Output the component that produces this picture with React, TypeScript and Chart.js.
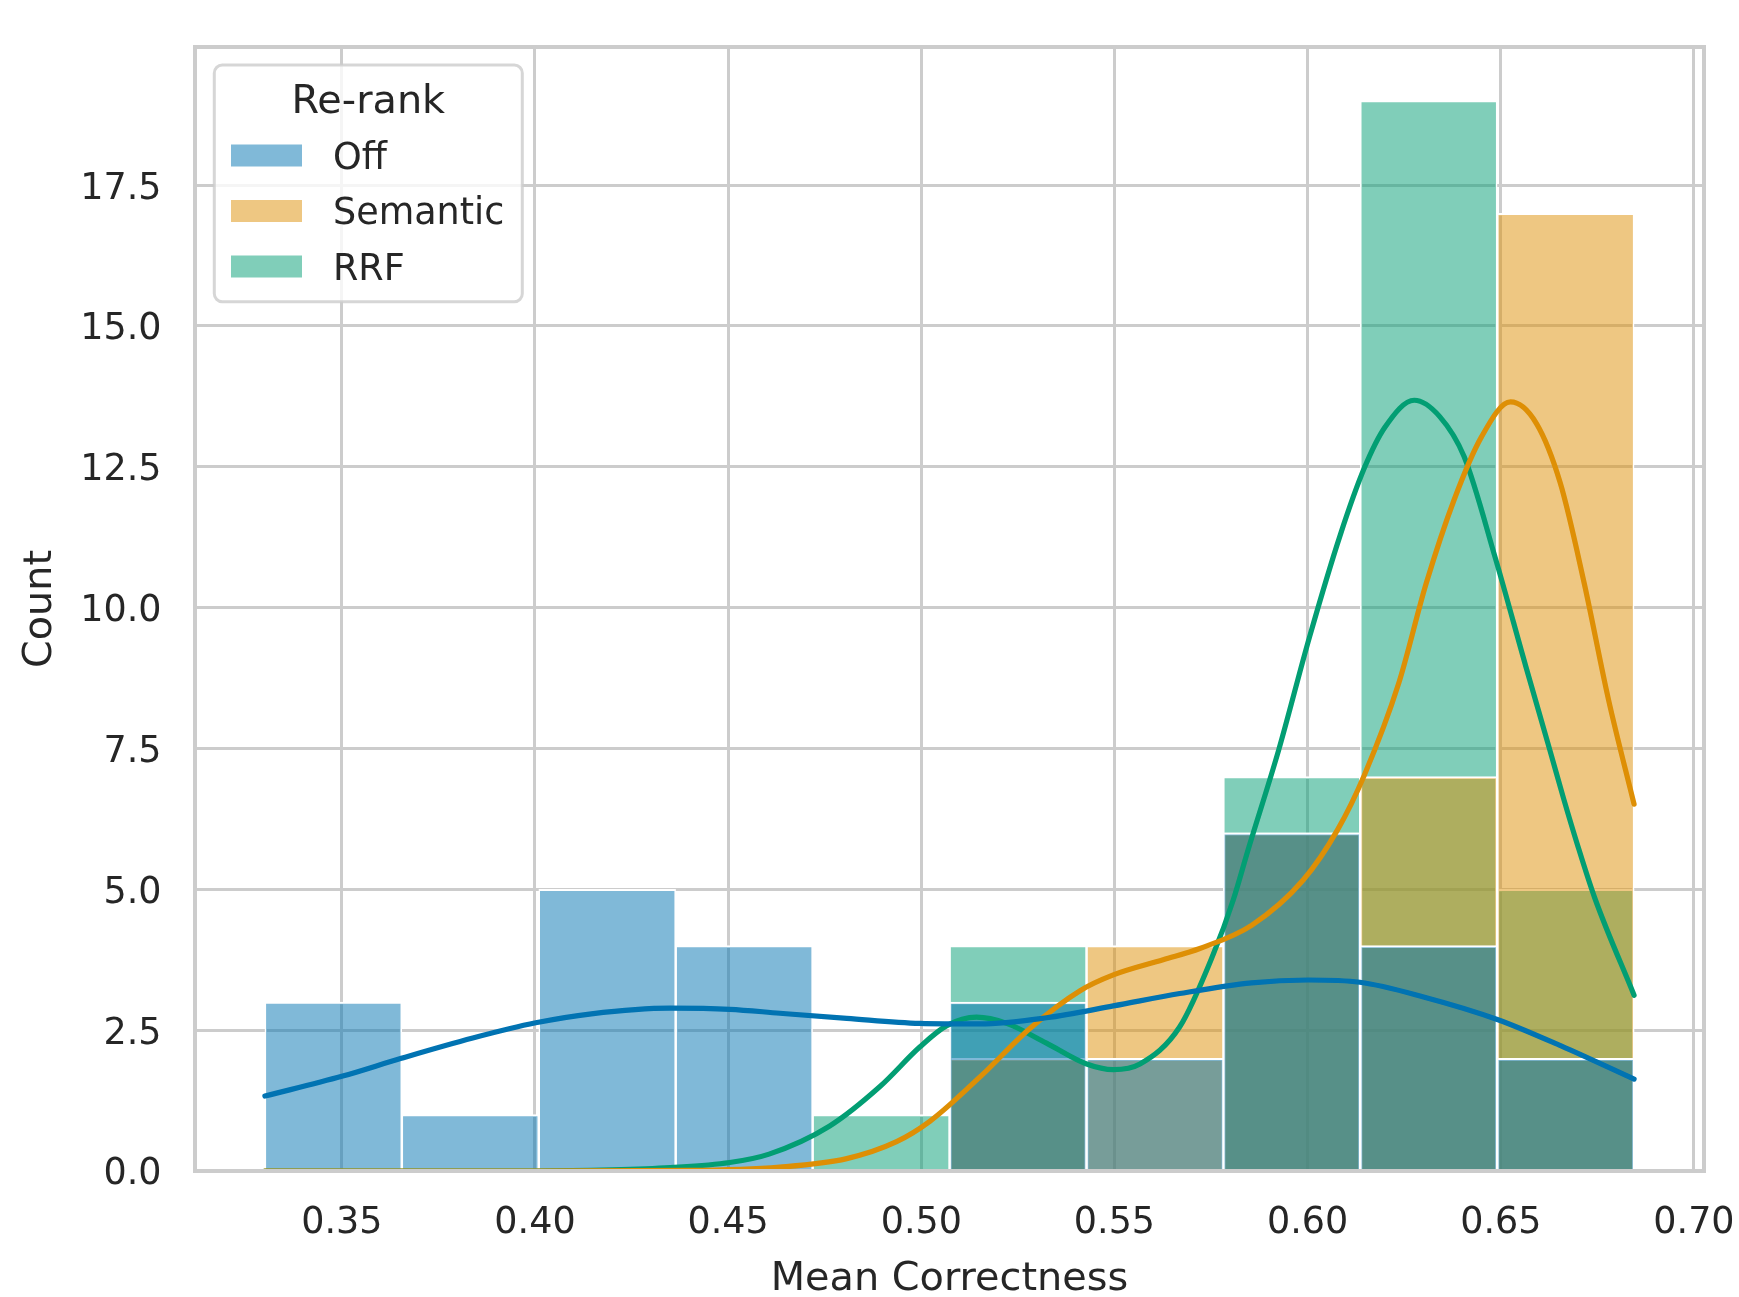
import React, { useEffect, useRef } from 'react';
import { Chart, registerables } from 'chart.js';

Chart.register(...registerables);

// ---------------- data ----------------
const seriesNames = ['Off', 'Semantic', 'RRF'];
const seriesColors = ['#0173b2', '#de8f05', '#029e73'];
const legendTitle = 'Re-rank';
const xAxisTitle = 'Mean Correctness';
const yAxisTitle = 'Count';

const binEdges = [0.3301, 0.3655, 0.401, 0.4364, 0.4719, 0.5073, 0.5428, 0.5782, 0.6136, 0.6491, 0.6845];
const offCounts = [3, 1, 5, 4, 0, 3, 2, 6, 4, 2];
const semanticCounts = [0, 0, 0, 0, 0, 2, 4, 6, 7, 17];
const rrfCounts = [0, 0, 0, 0, 1, 4, 0, 7, 19, 5];

const xTicks = [0.35, 0.4, 0.45, 0.5, 0.55, 0.6, 0.65, 0.7];
const yTicks = [0, 2.5, 5, 7.5, 10, 12.5, 15, 17.5];
const xMin = 0.312;
const xMax = 0.7026;
const yMin = 0;
const yMax = 19.95;

const offKdeX = [0.3301, 0.35, 0.3654, 0.3839, 0.4002, 0.4146, 0.435, 0.4504, 0.4634, 0.4807, 0.4996, 0.5152, 0.5324, 0.5497, 0.5669, 0.5855, 0.6001, 0.6135, 0.63, 0.6491, 0.6656, 0.6845];
const offKdeY = [1.33, 1.68, 2.0, 2.36, 2.63, 2.79, 2.89, 2.87, 2.8, 2.71, 2.62, 2.61, 2.72, 2.93, 3.15, 3.34, 3.39, 3.35, 3.09, 2.69, 2.22, 1.63];

const semanticKdeX = [0.3301, 0.4, 0.44, 0.4634, 0.4807, 0.4936, 0.5022, 0.5152, 0.5281, 0.5411, 0.5497, 0.5626, 0.5721, 0.5855, 0.5988, 0.6077, 0.6147, 0.6236, 0.6307, 0.6379, 0.645, 0.6525, 0.6592, 0.6654, 0.6716, 0.6779, 0.6845];
const semanticKdeY = [0, 0, 0.01, 0.07, 0.22, 0.52, 0.88, 1.67, 2.53, 3.2, 3.48, 3.75, 3.95, 4.36, 5.16, 6.05, 7.03, 8.66, 10.43, 11.91, 13.03, 13.65, 13.27, 12.21, 10.43, 8.36, 6.51];

const rrfKdeX = [0.3301, 0.4, 0.42, 0.435, 0.4504, 0.4606, 0.4763, 0.4893, 0.4996, 0.5066, 0.5143, 0.5221, 0.5324, 0.5428, 0.5497, 0.5566, 0.5669, 0.5756, 0.5807, 0.5845, 0.5925, 0.6005, 0.6085, 0.6147, 0.62, 0.6276, 0.6342, 0.6405, 0.6485, 0.6565, 0.6627, 0.6663, 0.6698, 0.6743, 0.6845];
const rrfKdeY = [0, 0, 0.02, 0.06, 0.15, 0.3, 0.8, 1.5, 2.2, 2.58, 2.73, 2.62, 2.27, 1.9, 1.8, 1.9, 2.56, 3.85, 4.8, 5.68, 7.47, 9.48, 11.3, 12.48, 13.2, 13.68, 13.39, 12.68, 10.9, 8.95, 7.47, 6.6, 5.8, 4.85, 3.12];

// ---------------- style ----------------
const FONT = '"DejaVu Sans", sans-serif';
const TEXT = '#262626';
const GRID = '#cccccc';

function rgba(hex: string, a: number) {
  const n = parseInt(hex.slice(1), 16);
  return `rgba(${(n >> 16) & 255}, ${(n >> 8) & 255}, ${n & 255}, ${a})`;
}

const binCenters = binEdges.slice(0, -1).map((e, i) => (e + binEdges[i + 1]) / 2);
const countsBySeries = [offCounts, semanticCounts, rrfCounts];
const kdeBySeries = [
  [offKdeX, offKdeY],
  [semanticKdeX, semanticKdeY],
  [rrfKdeX, rrfKdeY],
];

const decorPlugin = {
  id: 'seabornDecor',
  afterDatasetsDraw(chart: any) {
    const { ctx, chartArea } = chart;
    const { left, top, right, bottom } = chartArea;
    ctx.save();
    // spines
    ctx.strokeStyle = GRID;
    ctx.lineWidth = 4;
    ctx.strokeRect(left, top, right - left, bottom - top);

    // legend frame
    const x0 = left + 19.3;
    const y0 = top + 18;
    const w = 308;
    const h = 236.7;
    ctx.beginPath();
    ctx.roundRect(x0, y0, w, h, 8);
    ctx.fillStyle = 'rgba(255,255,255,0.8)';
    ctx.fill();
    ctx.strokeStyle = 'rgba(204,204,204,0.8)';
    ctx.lineWidth = 3;
    ctx.stroke();

    // title
    ctx.fillStyle = TEXT;
    ctx.font = `39.8px ${FONT}`;
    ctx.textAlign = 'center';
    ctx.textBaseline = 'alphabetic';
    ctx.fillText(legendTitle, x0 + w / 2, y0 + 47.7);

    // entries
    ctx.font = `36.5px ${FONT}`;
    ctx.textAlign = 'left';
    seriesNames.forEach((name, i) => {
      const cy = y0 + 90.5 + i * 55.5;
      ctx.fillStyle = rgba(seriesColors[i], 0.5);
      ctx.fillRect(x0 + 16.7, cy - 11, 71, 22);
      ctx.fillStyle = TEXT;
      ctx.fillText(name, x0 + 118.7, cy + 13.3);
    });
    ctx.restore();
  },
};

export default function App() {
  const ref = useRef<HTMLCanvasElement>(null);

  useEffect(() => {
    if (!ref.current) return;
    const datasets: any[] = [];
    // bars: Off on top, RRF at bottom
    seriesNames.forEach((name, i) => {
      datasets.push({
        type: 'bar',
        label: name,
        data: binCenters.map((c, j) => ({ x: c, y: countsBySeries[i][j] })),
        backgroundColor: rgba(seriesColors[i], 0.5),
        borderColor: '#ffffff',
        borderWidth: { top: 2, left: 1.5, right: 1.5, bottom: 0 },
        borderSkipped: 'start',
        grouped: false,
        barPercentage: 1,
        categoryPercentage: 1,
        order: 4 + i,
      });
    });
    seriesNames.forEach((name, i) => {
      const [xs, ys] = kdeBySeries[i];
      datasets.push({
        type: 'line',
        label: name + ' KDE',
        data: xs.map((x, j) => ({ x, y: ys[j] })),
        borderColor: seriesColors[i],
        backgroundColor: seriesColors[i],
        borderWidth: 5.2,
        pointRadius: 0,
        fill: false,
        cubicInterpolationMode: 'monotone',
        borderCapStyle: 'round',
        borderJoinStyle: 'round',
        order: 1 + i,
      });
    });

    const chart = new Chart(ref.current, {
      type: 'line',
      data: { datasets },
      options: {
        animation: false,
        responsive: false,
        devicePixelRatio: 1,
        events: [],
        layout: { padding: { top: 47, right: 35, bottom: 0, left: 0 } },
        plugins: { legend: { display: false }, tooltip: { enabled: false } },
        scales: {
          x: {
            type: 'linear',
            min: xMin,
            max: xMax,
            offset: false,
            grid: { color: GRID, lineWidth: 3, drawTicks: false, offset: false },
            border: { display: false },
            afterBuildTicks: (s: any) => {
              s.ticks = xTicks.map((v) => ({ value: v }));
            },
            afterFit: (s: any) => {
              s.height = 126;
              s.paddingLeft = 0;
              s.paddingRight = 0;
            },
            ticks: {
              font: { family: FONT, size: 36.5, lineHeight: 1.2 },
              color: TEXT,
              padding: 31,
              maxRotation: 0,
              autoSkip: false,
              callback: (v: any) => Number(v).toFixed(2),
            },
            title: {
              display: true,
              text: xAxisTitle,
              color: TEXT,
              font: { family: FONT, size: 39.8, lineHeight: 1 },
              padding: { top: 0, bottom: -3 },
            },
          },
          y: {
            type: 'linear',
            min: yMin,
            max: yMax,
            grid: { color: GRID, lineWidth: 3, drawTicks: false },
            border: { display: false },
            afterBuildTicks: (s: any) => {
              s.ticks = yTicks.map((v) => ({ value: v }));
            },
            afterFit: (s: any) => {
              s.width = 195;
              s.paddingTop = 0;
              s.paddingBottom = 0;
            },
            ticks: {
              font: { family: FONT, size: 36.5, lineHeight: 1.2 },
              color: TEXT,
              padding: 33.5,
              labelOffset: 4,
              autoSkip: false,
              callback: (v: any) => Number(v).toFixed(1),
            },
            title: {
              display: true,
              text: yAxisTitle,
              color: TEXT,
              font: { family: FONT, size: 39.8, lineHeight: 1 },
              padding: { top: 21, bottom: 0 },
            },
          },
        },
      },
      plugins: [decorPlugin],
    } as any);
    return () => chart.destroy();
  }, []);

  return (
    <div style={{ position: 'fixed', left: 0, top: 0, width: 1739, height: 1297, background: '#ffffff' }}>
      <canvas ref={ref} width={1739} height={1297} style={{ display: 'block' }} />
    </div>
  );
}
